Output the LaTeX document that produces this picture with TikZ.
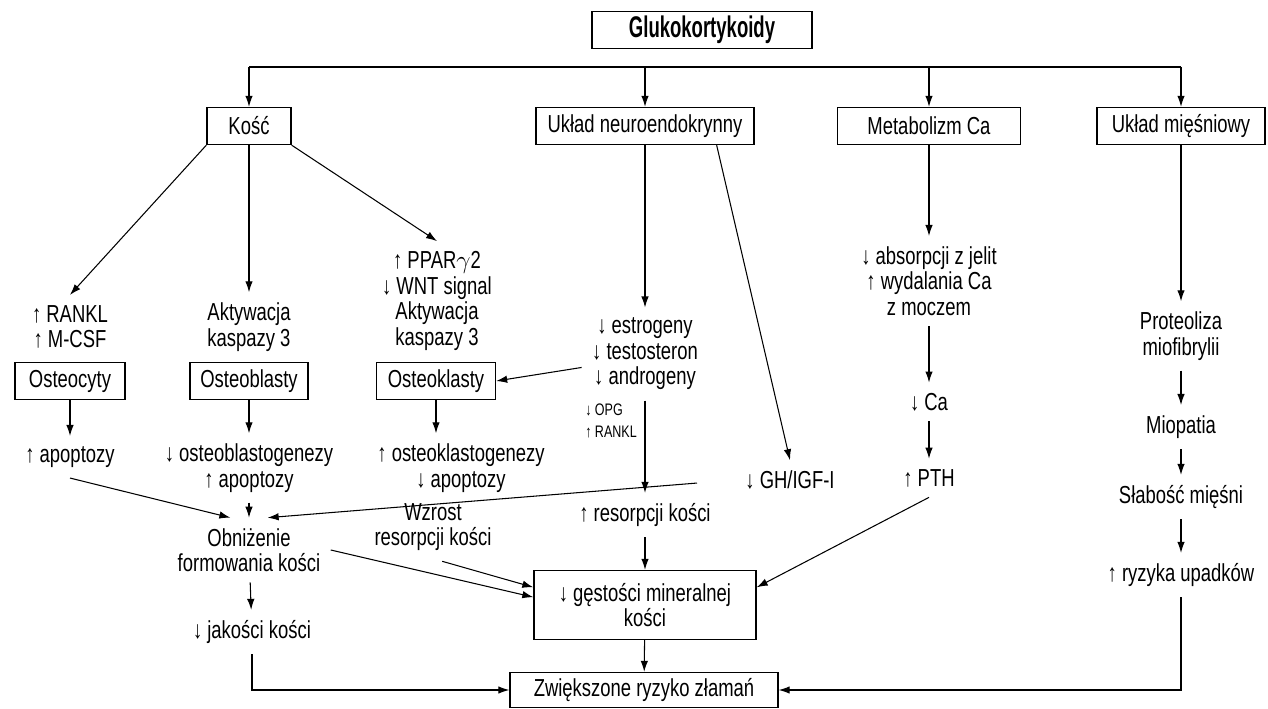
\documentclass[tikz,border=0pt]{standalone}
\usepackage{fontspec}
\setmainfont{Liberation Sans}[FakeStretch=0.75]
\newfontfamily\titlefont{Liberation Sans}[FakeStretch=0.62]
\usetikzlibrary{arrows.meta, calc}

\tikzset{
    box/.style={draw, line width=0.8pt, minimum height=0.74cm, inner sep=2pt},
    lbl/.style={align=center, inner sep=2pt, outer sep=4pt},
    arr/.style={-{Latex[length=2.2mm, width=1.5mm]}, line width=0.6pt},
    lin/.style={line width=0.6pt}
}

\begin{document}
\begin{tikzpicture}[x=0.02cm, y=-0.02cm, font=\fontsize{14}{14.5}\selectfont]
    \useasboundingbox (0,0) rectangle (1268,709);
    \def\busy{67}

    % top level
    \node[box, minimum width=4.4cm, font=\fontsize{17}{18}\titlefont\bfseries] (gluko) at (702,30) {Glukokortykoidy};
    \coordinate (bus) at (0,\busy);

    \node[box, minimum width=1.68cm] (kosc) at (249,126) {Kość};
    \node[box, minimum width=4.36cm] (neuro) at (645,126) {Układ neuroendokrynny};
    \node[box, minimum width=3.66cm] (metab) at (929,126) {Metabolizm Ca};
    \node[box, minimum width=3.36cm] (miesn) at (1181,126) {Układ mięśniowy};

    \draw[lin] (kosc.north |- bus) -- (miesn.north |- bus);
    \foreach \n in {kosc, neuro, metab, miesn}
        \draw[arr] (\n.north |- bus) -- (\n);

    % bone
    \node[lbl] (rankl) at (70,327) {↑ RANKL\\↑ M-CSF};
    \node[lbl] (akt) at (249,327) {Aktywacja\\kaspazy 3};
    \node[lbl] (ppar) at (437,301) {↑ PPAR$\gamma$2\\↓ WNT signal\\Aktywacja\\kaspazy 3};

    \node[box, minimum width=2.2cm] (ocyty) at (70,381) {Osteocyty};
    \node[box, minimum width=2.36cm] (oblast) at (249,381) {Osteoblasty};
    \node[box, minimum width=2.38cm] (oklast) at (436,381) {Osteoklasty};

    \node[lbl] (apop) at (70,457) {↑ apoptozy};
    \node[lbl] (oblg) at (249,468) {↓ osteoblastogenezy\\↑ apoptozy};
    \node[lbl] (oklg) at (461,468) {↑ osteoklastogenezy\\↓ apoptozy};

    \node[lbl] (obniz) at (249,550) {Obniżenie\\formowania kości};
    \node[lbl] (wzrost) at (433,527) {Wzrost\\resorpcji kości};
    \node[lbl] (jakosc) at (252,632) {↓ jakości kości};

    \draw[arr] (kosc.south west) -- (rankl.north);
    \draw[arr] (kosc) -- (akt);
    \draw[arr] (kosc.south east) -- (ppar.north);
    \draw[arr] (ocyty) -- (apop);
    \draw[arr] (oblast) -- (oblg);
    \draw[arr] (oklast.south) -- (oklast.south |- oklg.north);
    \draw[arr] (apop.south) -- (obniz.120);
    \draw[arr] (oblg) -- (obniz);
    \draw[arr] (obniz) -- (jakosc);

    % neuroendocrine
    \node[lbl] (estr) at (645,354) {↓ estrogeny\\↓ testosteron\\↓ androgeny};
    \node[lbl, align=left, font=\fontsize{9.5}{13}\selectfont] (opg) at (611,421) {↓ OPG\\↑ RANKL};
    \node[lbl] (gh) at (790,480) {↓ GH/IGF-I};
    \node[lbl] (resorp) at (645,515) {↑ resorpcji kości};

    \draw[arr] (neuro) -- (estr);
    \draw[arr] (neuro.-15) -- (gh.north);
    \draw[arr] (estr.192) -- (oklast.east);
    \draw[arr] (estr) -- (resorp);
    \draw[arr, shorten <=0.76cm] (gh.west) -- (obniz.60);

    % calcium
    \node[lbl] (absorb) at (929,281) {↓ absorpcji z jelit\\↑ wydalania Ca\\z moczem};
    \node[lbl] (ca) at (929,402) {↓ Ca};
    \node[lbl] (pth) at (929,478) {↑ PTH};

    \draw[arr] (metab) -- (absorb);
    \draw[arr] (absorb) -- (ca);
    \draw[arr] (ca) -- (pth);

    % muscle
    \node[lbl] (prot) at (1181,336) {Proteoliza\\miofibrylii};
    \node[lbl] (miop) at (1181,427) {Miopatia};
    \node[lbl] (slab) at (1181,497) {Słabość mięśni};
    \node[lbl] (ryzyk) at (1181,575) {↑ ryzyka upadków};

    \foreach \a/\b in {miesn/prot, prot/miop, miop/slab, slab/ryzyk}
        \draw[arr] (\a) -- (\b);

    % outcome
    \node[box, minimum width=4.44cm, minimum height=1.38cm, align=center] (gest) at (645,605) {↓ gęstości mineralnej\\kości};
    \node[box, minimum width=5.36cm, minimum height=0.7cm] (zlam) at (644,690) {Zwiększone ryzyko złamań};

    \draw[arr] (resorp) -- (gest);
    \draw[arr] (wzrost.-75) -- (gest.171);
    \draw[arr] (obniz.east) -- (gest.176);
    \draw[arr] (pth.south) -- (gest.9);
    \draw[arr] (gest) -- (zlam);
    \draw[arr] (jakosc.south) |- (zlam.west);
    \draw[arr] (ryzyk.south) |- (zlam.east);
\end{tikzpicture}
\end{document}
